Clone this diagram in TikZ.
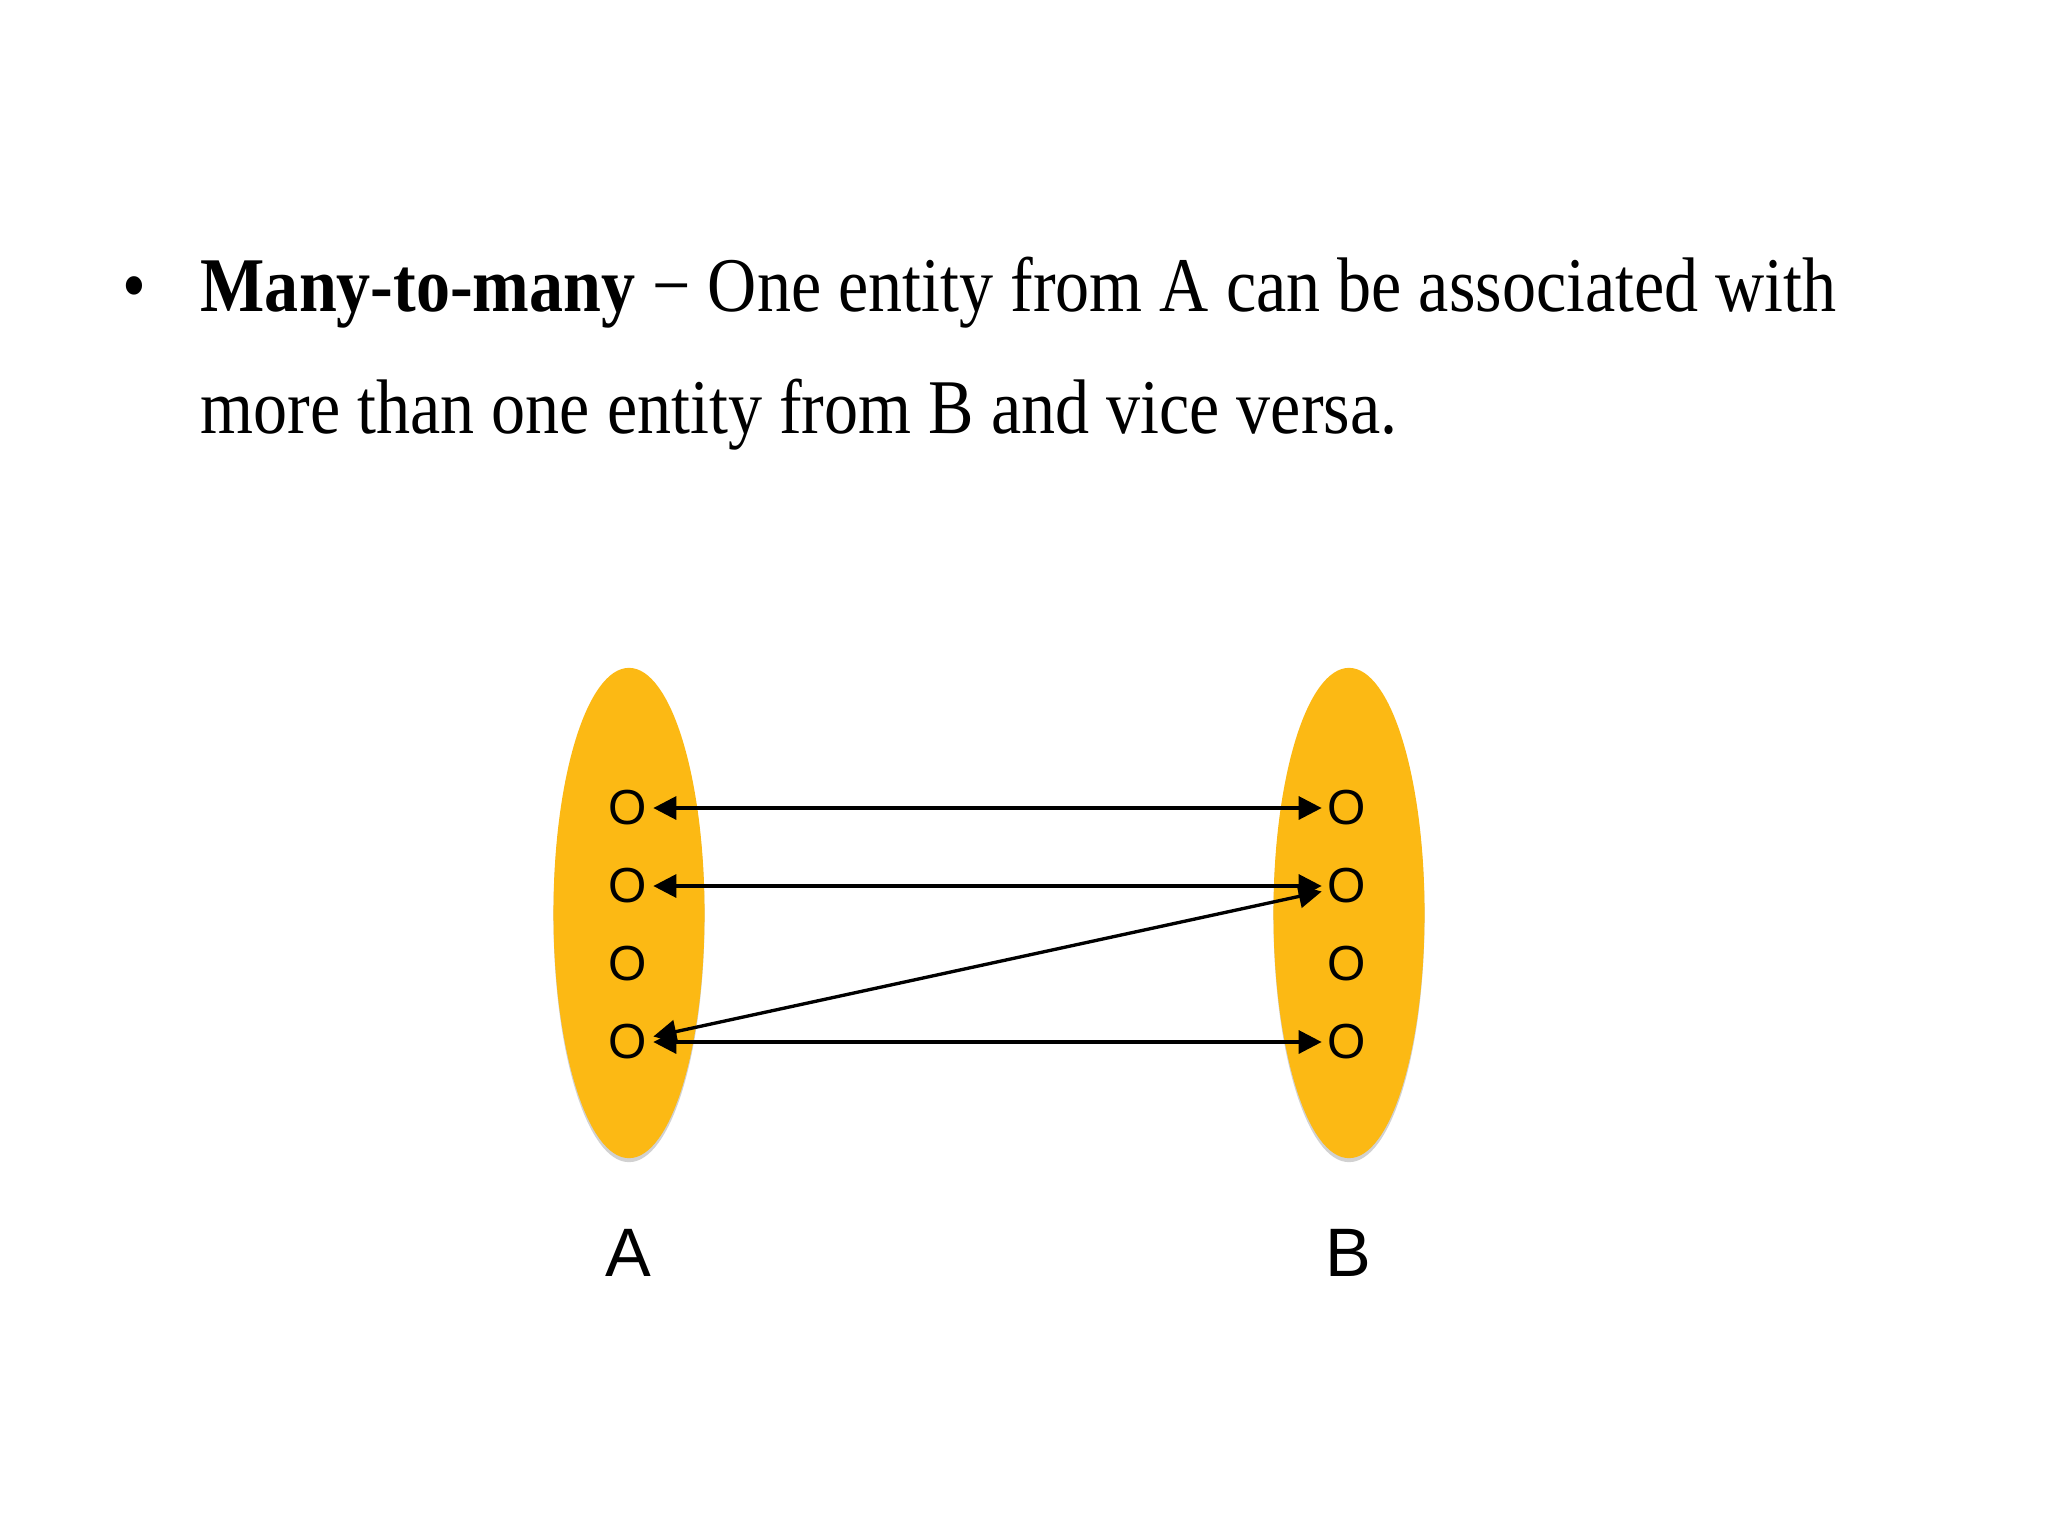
\documentclass[tikz,border=0pt]{standalone}
\usepackage{fontspec}
\setmainfont[FakeStretch=0.88]{Liberation Serif}
\newfontfamily\helv{Liberation Sans}
\usetikzlibrary{shapes.geometric,arrows.meta}
\definecolor{setyellow}{RGB}{252,185,20}
\tikzset{
  setblob/.style={ellipse, fill=setyellow, draw=none, minimum width=15.1mm, minimum height=49mm, inner sep=0pt},
  blobshadow/.style={ellipse, fill=black!18, draw=none, minimum width=15.1mm, minimum height=49mm, inner sep=0pt},
  elem/.style={font=\helv\fontsize{14}{14}\selectfont, inner sep=0.55mm},
  setlabel/.style={font=\helv\fontsize{19.5}{19.5}\selectfont, inner sep=0pt},
  link/.style={line width=0.95pt, {Triangle[length=2.3mm,width=2.3mm]}-{Triangle[length=2.3mm,width=2.3mm]}},
  bodytext/.style={font=\fontsize{22}{22}\selectfont, anchor=base west, inner sep=0pt}
}
\begin{document}
\begin{tikzpicture}[x=0.01cm,y=-0.01cm]
\useasboundingbox (0,0) rectangle (2048,1536);
\node[bodytext, anchor=base] (bul) at (134,311) {•};
\node[bodytext] (l1) at (200,311) {\textbf{Many-to-many} − One entity from A can be associated with};
\node[bodytext] (l2) at (200,433) {more than one entity from B and vice versa.};
\node[blobshadow] (SAs) at (629,917) {};
\node[blobshadow] (SBs) at (1349,917) {};
\node[setblob] (SA) at (629,913) {};
\node[setblob] (SB) at (1349,913) {};
\foreach \i/\y in {1/808,2/886,3/964,4/1042}{
  \node[elem] (a\i) at (628,\y) {O};
  \node[elem] (b\i) at (1347,\y) {O};
}
\node[setlabel] (LA) at (628,1253) {A};
\node[setlabel] (LB) at (1348,1253) {B};
\draw[link] (a1) -- (b1);
\draw[link] (a2) -- (b2);
\draw[link] (a4) -- (b4);
\draw[link] (a4) -- (b2);
\end{tikzpicture}
\end{document}
